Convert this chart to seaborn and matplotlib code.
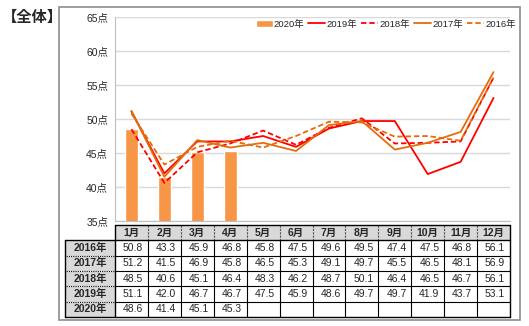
import matplotlib
matplotlib.use("Agg")
import matplotlib.pyplot as plt
from matplotlib.patches import Rectangle
import seaborn as sns

# ---- data ----
months = ["1月", "2月", "3月", "4月", "5月", "6月", "7月", "8月", "9月", "10月", "11月", "12月"]
y2016 = [50.8, 43.3, 45.9, 46.8, 45.8, 47.5, 49.6, 49.5, 47.4, 47.5, 46.8, 56.1]
y2017 = [51.2, 41.5, 46.9, 45.8, 46.5, 45.3, 49.1, 49.7, 45.5, 46.5, 48.1, 56.9]
y2018 = [48.5, 40.6, 45.1, 46.4, 48.3, 46.2, 48.7, 50.1, 46.4, 46.5, 46.7, 56.1]
y2019 = [51.1, 42.0, 46.7, 46.7, 47.5, 45.9, 48.6, 49.7, 49.7, 41.9, 43.7, 53.1]
y2020 = [48.6, 41.4, 45.1, 45.3]
row_labels = ["2016年", "2017年", "2018年", "2019年", "2020年"]
yticks = [35, 40, 45, 50, 55, 60, 65]

sns.set_style("white")
plt.rcParams["font.family"] = ["Liberation Sans", "Noto Sans CJK JP"]

W, H = 529, 326
fig = plt.figure(figsize=(W / 100, H / 100), dpi=100)


def rect(l, t, r, b):
    return [l / W, 1 - b / H, (r - l) / W, (b - t) / H]


# outer frame
fig.patches.append(Rectangle((59 / W, 1 - 320 / H), (520 - 59) / W, (320 - 7) / H,
                             transform=fig.transFigure, fill=False,
                             edgecolor="#8c8c8c", linewidth=1.2))
fig.text(2 / W, 1 - 17 / H, "【全体】", fontsize=11, fontweight="bold",
         va="center", ha="left", family=["Noto Sans CJK JP"])

# ---- chart ----
ax = fig.add_axes(rect(115, 17, 510, 221))
BAR = "#F79646"
RED = "#FF0000"
ORG = "#E46C0A"

sns.barplot(x=months[:len(y2020)], y=y2020, order=months, color=BAR,
            saturation=1, width=0.4, ax=ax, label="2020年")
pos = list(range(len(months)))
series = [("2019年", y2019, RED, "-"),
          ("2018年", y2018, RED, (0, (3, 1.6))),
          ("2017年", y2017, ORG, "-"),
          ("2016年", y2016, ORG, (0, (3, 1.6)))]
for name, vals, col, ls in series:
    sns.lineplot(x=pos, y=vals, color=col, linestyle=ls, linewidth=1.3,
                 ax=ax, label=name)

ax.set_xlim(-0.5, 11.5)
ax.set_ylim(35, 65)
ax.set_yticks(yticks)
ax.set_yticklabels([f"{v}点" for v in yticks], fontsize=7.5)
ax.tick_params(axis="y", length=0, pad=5)
ax.set_xticks([])
ax.set_xlabel("")
ax.set_ylabel("")
ax.grid(axis="y", color="#d9d9d9", linewidth=1)
ax.set_axisbelow(True)
for s in ["top", "right"]:
    ax.spines[s].set_visible(False)
ax.spines["left"].set_color("#bfbfbf")
ax.spines["bottom"].set_color("#bfbfbf")

h, l = ax.get_legend_handles_labels()
order = ["2020年", "2019年", "2018年", "2017年", "2016年"]
hmap = dict(zip(l, h))
ax.legend([hmap[k] for k in order], order, ncol=5, frameon=False, fontsize=6.8,
          loc="center right", bbox_to_anchor=(520 / W, 1 - 24 / H),
          bbox_transform=fig.transFigure, handlelength=1.8, handletextpad=0.15,
          columnspacing=0.4, borderaxespad=0)

# ---- data table ----
tab = fig.add_axes(rect(65, 225, 510, 317))
lab_left = -0.5 - 50 / (395 / 12)
tab.set_xlim(lab_left, 11.5)
tab.set_ylim(6, 0)
tab.axis("off")
GRAY = "#d9d9d9"

tab.add_patch(Rectangle((-0.5, 0), 12, 1, facecolor=GRAY, edgecolor="none"))
tab.add_patch(Rectangle((lab_left, 1), -0.5 - lab_left, 5, facecolor=GRAY, edgecolor="none"))

for i, m in enumerate(months):
    tab.text(i, 0.5, m, ha="center", va="center", fontsize=7.5, fontweight="bold")
all_rows = [y2016, y2017, y2018, y2019, y2020]
for r, (name, vals) in enumerate(zip(row_labels, all_rows)):
    tab.text((lab_left - 0.5) / 2, r + 1.5, name, ha="center", va="center",
             fontsize=7.5, fontweight="bold")
    for i, v in enumerate(vals):
        tab.text(i + 0.05, r + 1.5, f"{v:.1f}", ha="center", va="center", fontsize=7.5)

# grid lines of the table
for r in range(2, 6):
    tab.plot([lab_left, 11.5], [r, r], color="black", lw=0.8)
    tab.plot([lab_left, -0.5], [r, r], color="white", lw=0.8, linestyle=(0, (1, 1)))
tab.plot([-0.5, 11.5], [1, 1], color="black", lw=1.0)
tab.plot([lab_left, -0.5], [1, 1], color="black", lw=1.0)
for i in range(12):
    x = i + 0.5
    if i < 11:
        tab.plot([x, x], [0, 1], color="#555555", lw=0.8, linestyle=(0, (2, 1)))
        tab.plot([x, x], [1, 6], color="black", lw=0.8)
tab.plot([-0.5, -0.5], [0, 6], color="black", lw=1.0)
tab.plot([-0.5, 11.5], [0, 0], color="black", lw=1.0)
tab.plot([11.5, 11.5], [0, 6], color="black", lw=1.0)
tab.plot([lab_left, 11.5], [6, 6], color="black", lw=1.0)
tab.plot([lab_left, lab_left], [1, 6], color="black", lw=1.0)
for ln in tab.lines:
    ln.set_clip_on(False)

fig.savefig("out.png", dpi=100)
